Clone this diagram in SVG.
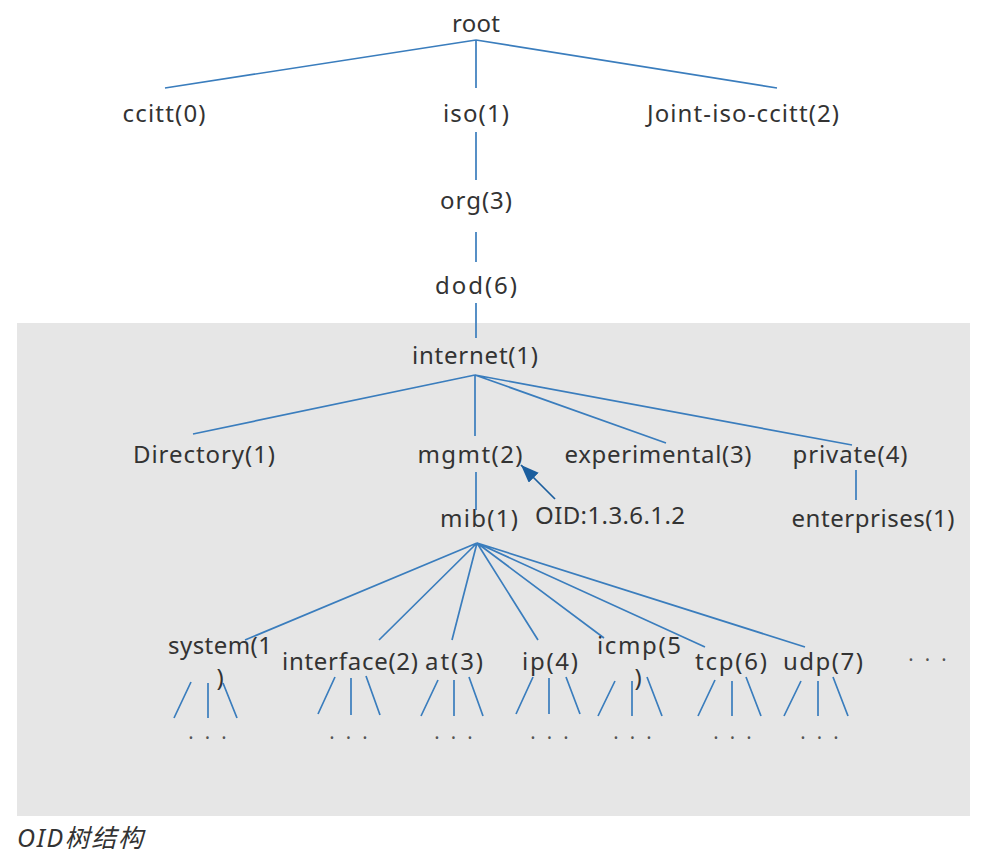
<svg xmlns="http://www.w3.org/2000/svg" width="986" height="857" viewBox="0 0 986 857">
<style>
.t{font-family:"Noto Sans","Liberation Sans",sans-serif;font-size:24px;fill:#333;text-anchor:middle}
.c{stroke:#3a7dbd;stroke-width:1.7;fill:none}
.d{font-family:"Noto Sans","Liberation Sans",sans-serif;font-size:20px;fill:#555;text-anchor:middle;letter-spacing:3px}
.cap{font-family:"Noto Sans","Noto Sans CJK SC",sans-serif;font-size:25px;font-style:italic;fill:#333}
</style>
<defs>
<marker id="ah" markerUnits="userSpaceOnUse" markerWidth="20" markerHeight="16" refX="18" refY="7" orient="auto">
<path d="M0,0 L18,7 L0,14 Z" fill="#1b5e9e"/>
</marker>
</defs>
<rect x="17" y="323" width="953" height="493" fill="#e6e6e6"/>
<g id="connectors" class="c">
<path d="M476,40 L165,88 M476,40 L476,88 M476,40 L777,88"/>
<path d="M476,132 L476,180 M476,232 L476,262 M476,303 L476,338"/>
<path d="M475,375 L193,434 M475,375 L475,436 M475,375 L666,443 M475,375 L852,445"/>
<path d="M476,472 L476,510 M856,470 L856,500"/>
<path d="M477,543 L245,640 M477,543 L379,640 M477,543 L452,640 M477,543 L538,640 M477,543 L604,638 M477,543 L705,647 M477,543 L805,647"/>
<path d="M191,682 L174,718 M208,683 L208,718 M223,683 L237,718"/>
<path d="M335,677 L318,714 M351,678 L351,715 M366,676 L380,715"/>
<path d="M438,680 L421,716 M454,680 L454,716 M469,677 L483,716"/>
<path d="M533,677 L516,714 M549,678 L549,714 M566,677 L580,714"/>
<path d="M615,681 L598,716 M632,681 L632,716 M647,677 L662,716"/>
<path d="M715,680 L698,716 M732,681 L732,716 M746,677 L761,716"/>
<path d="M801,681 L784,716 M818,681 L818,716 M833,677 L848,716"/>
<path d="M555,499 L521,465" stroke="#1b5e9e" marker-end="url(#ah)"/>
</g>
<g id="root"><text class="t" x="476" y="32" textLength="48">root</text></g>
<g id="ccitt"><text class="t" x="164" y="122" textLength="83">ccitt(0)</text></g>
<g id="iso"><text class="t" x="476" y="122" textLength="66">iso(1)</text></g>
<g id="joint"><text class="t" x="743" y="122" textLength="192">Joint-iso-ccitt(2)</text></g>
<g id="org"><text class="t" x="476" y="209" textLength="72">org(3)</text></g>
<g id="dod"><text class="t" x="476" y="294" textLength="82">dod(6)</text></g>
<g id="internet"><text class="t" x="475" y="364" textLength="126">internet(1)</text></g>
<g id="directory"><text class="t" x="204" y="463" textLength="142">Directory(1)</text></g>
<g id="mgmt"><text class="t" x="470" y="463" textLength="105">mgmt(2)</text></g>
<g id="experimental"><text class="t" x="658" y="463" textLength="187">experimental(3)</text></g>
<g id="private"><text class="t" x="850" y="463" textLength="115">private(4)</text></g>
<g id="oid"><text class="t" x="610" y="524" textLength="150">OID:1.3.6.1.2</text></g>
<g id="mib"><text class="t" x="479" y="527" textLength="78">mib(1)</text></g>
<g id="enterprises"><text class="t" x="873" y="527" textLength="163">enterprises(1)</text></g>
<g id="system"><text class="t" x="220" y="654" textLength="104">system(1</text><text class="t" x="220" y="686">)</text><text class="d" x="209" y="745">· · ·</text></g>
<g id="interface"><text class="t" x="350" y="670" textLength="136">interface(2)</text><text class="d" x="350" y="745">· · ·</text></g>
<g id="at"><text class="t" x="454" y="670" textLength="58">at(3)</text><text class="d" x="455" y="745">· · ·</text></g>
<g id="ip"><text class="t" x="550" y="670" textLength="56">ip(4)</text><text class="d" x="551" y="745">· · ·</text></g>
<g id="icmp"><text class="t" x="639" y="654" textLength="84">icmp(5</text><text class="t" x="638" y="686">)</text><text class="d" x="634" y="745">· · ·</text></g>
<g id="tcp"><text class="t" x="731" y="670" textLength="72">tcp(6)</text><text class="d" x="734" y="745">· · ·</text></g>
<g id="udp"><text class="t" x="823" y="670" textLength="80">udp(7)</text><text class="d" x="821" y="745">· · ·</text></g>
<g id="more"><text class="d" x="929" y="667">· · ·</text></g>
<text class="cap" x="17" y="847" textLength="126">OID树结构</text>
</svg>
